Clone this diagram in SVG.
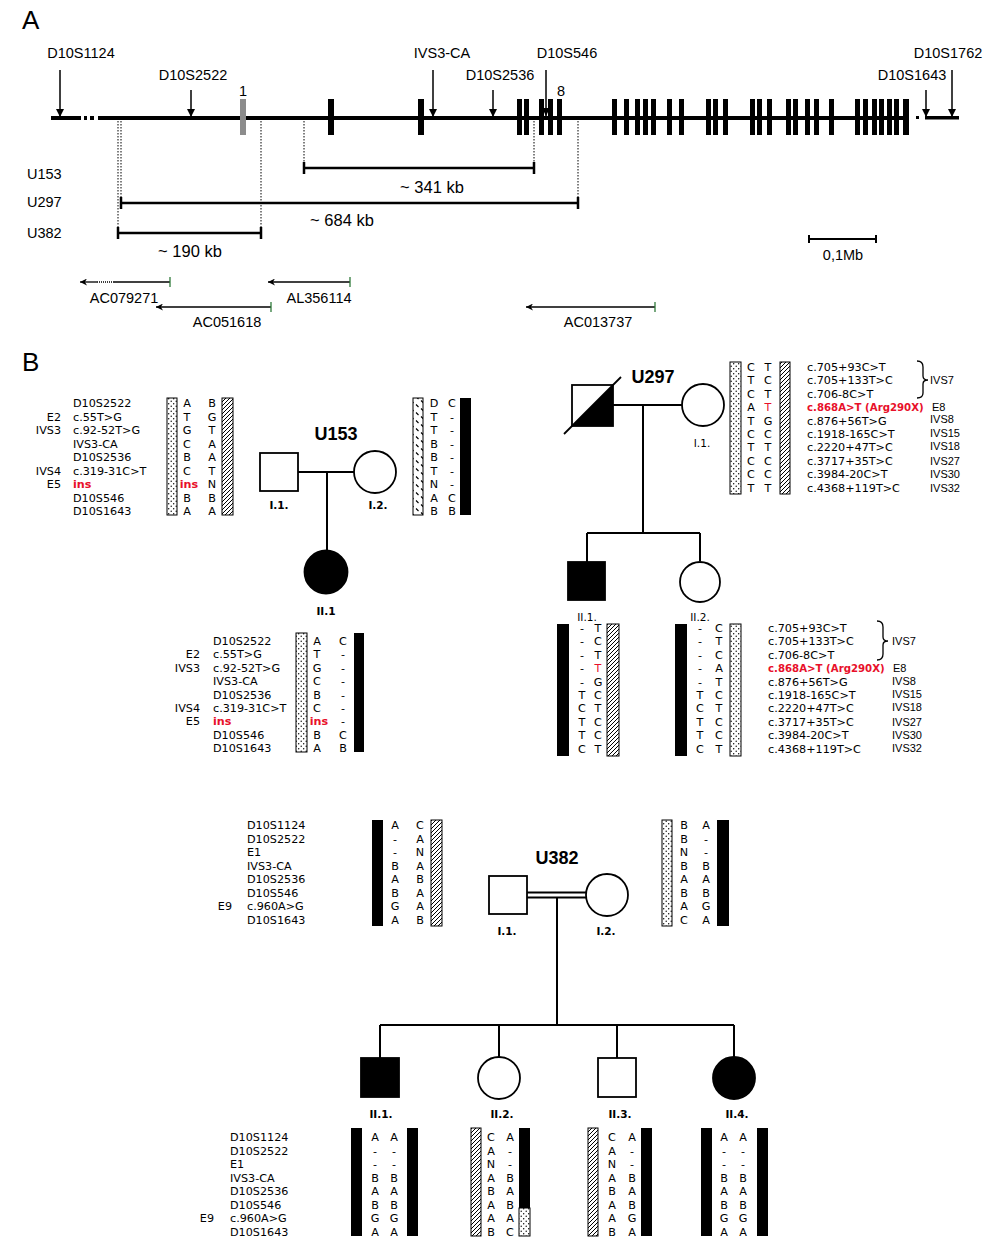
<svg xmlns="http://www.w3.org/2000/svg" width="1000" height="1246" viewBox="0 0 1000 1246">
<style>
.a{font-family:"Liberation Sans",Arial,sans-serif;font-size:14.5px;fill:#000}
.kb{font-size:16.5px}
.big{font-family:"Liberation Sans",Arial,sans-serif;font-size:26px;fill:#000}
.t{font-family:"Liberation Sans",Arial,sans-serif;font-weight:bold;font-size:18px;fill:#000}
.g{font-family:"DejaVu Sans",Verdana,sans-serif;font-size:11.2px;fill:#000}
.m{text-anchor:middle}
.e{text-anchor:end}
.iv{font-family:"Liberation Sans",Arial,sans-serif;font-size:11px;fill:#000}
.red{fill:#e8102a}
.rb{fill:#e8102a;font-weight:bold}
.lb{font-family:"DejaVu Sans",Verdana,sans-serif;font-size:10.5px;fill:#000;text-anchor:middle}
.lbb{font-family:"DejaVu Sans",Verdana,sans-serif;font-size:10.5px;font-weight:bold;fill:#000;text-anchor:middle}
.ex{fill:#000}
.ln{stroke:#000;stroke-width:2;fill:none}
.sym{stroke:#000;stroke-width:1.8;fill:#fff}
.fill{stroke:#000;stroke-width:1.8;fill:#000}
.dv{stroke:#000;stroke-width:1;stroke-dasharray:1.5 1.5;fill:none}
.dot{fill:url(#pd);stroke:#000;stroke-width:1}
.hat{fill:url(#ph);stroke:#000;stroke-width:1}
.sp{fill:url(#ps);stroke:#000;stroke-width:1}
.blk{fill:#000}
.arr{stroke:#000;stroke-width:1.5;fill:none;marker-end:url(#ah)}
.cl{stroke:#000;stroke-width:1.3;fill:none;marker-end:url(#ca)}
.tk{stroke:#2f7a3a;stroke-width:1.3}
.bar{stroke:#000;stroke-width:2.5;fill:none}
</style>
<defs>
<pattern id="pd" width="5" height="5" patternUnits="userSpaceOnUse">
<rect width="5" height="5" fill="#fff"/>
<circle cx="1.2" cy="1.2" r="0.7" fill="#000"/>
<circle cx="3.7" cy="3.7" r="0.7" fill="#000"/>
</pattern>
<pattern id="ph" width="4" height="4" patternUnits="userSpaceOnUse">
<rect width="4" height="4" fill="#fff"/>
<path d="M0,4 L4,0 M-1,1 L1,-1 M3,5 L5,3" stroke="#000" stroke-width="1"/>
</pattern>
<pattern id="ps" width="10" height="8" patternUnits="userSpaceOnUse">
<rect width="10" height="8" fill="#fff"/>
<path d="M1,0.5 L3.5,3 M6,4.5 L8.5,7" stroke="#000" stroke-width="1.1"/>
</pattern>
<marker id="ah" viewBox="0 0 10 10" refX="10" refY="5" markerWidth="8" markerHeight="8" markerUnits="userSpaceOnUse" orient="auto">
<path d="M0,0 L10,5 L0,10 z" fill="#000"/>
</marker>
<marker id="ca" viewBox="0 0 10 10" refX="10" refY="5" markerWidth="9" markerHeight="7" markerUnits="userSpaceOnUse" orient="auto">
<path d="M0,0 L10,5 L0,10 L3,5 z" fill="#000"/>
</marker>
</defs>
<rect width="1000" height="1246" fill="#fff"/>

<!-- PANEL A -->
<g id="panelA">
<text class="big" x="22" y="29">A</text>
<g id="backbone">
<rect x="51" y="116" width="30" height="4" class="ex"/>
<rect x="84" y="116" width="3" height="4" class="ex"/>
<rect x="90" y="116" width="4" height="4" class="ex"/>
<rect x="98" y="116" width="807" height="4" class="ex"/>
<rect x="916" y="116" width="3" height="3" class="ex"/>
<rect x="925" y="116" width="34" height="3.5" class="ex"/>
<rect x="240" y="99" width="6" height="36" fill="#8c8c8c"/>
<rect x="328" y="99" width="6" height="36" class="ex"/>
<rect x="418" y="99" width="6" height="36" class="ex"/>
<rect x="517" y="99" width="5" height="36" class="ex"/>
<rect x="524" y="99" width="5" height="36" class="ex"/>
<rect x="539" y="99" width="5" height="36" class="ex"/>
<rect x="548" y="99" width="5" height="36" class="ex"/>
<rect x="557" y="99" width="5" height="36" class="ex"/>
<rect x="612" y="99" width="5" height="36" class="ex"/>
<rect x="624" y="99" width="5" height="36" class="ex"/>
<rect x="635" y="99" width="5" height="36" class="ex"/>
<rect x="643" y="99" width="5" height="36" class="ex"/>
<rect x="651" y="99" width="5" height="36" class="ex"/>
<rect x="667" y="99" width="5" height="36" class="ex"/>
<rect x="679" y="99" width="5" height="36" class="ex"/>
<rect x="706" y="99" width="5" height="36" class="ex"/>
<rect x="713" y="99" width="5" height="36" class="ex"/>
<rect x="723" y="99" width="5" height="36" class="ex"/>
<rect x="750" y="99" width="5" height="36" class="ex"/>
<rect x="757" y="99" width="5" height="36" class="ex"/>
<rect x="767" y="99" width="5" height="36" class="ex"/>
<rect x="786" y="99" width="5" height="36" class="ex"/>
<rect x="793" y="99" width="5" height="36" class="ex"/>
<rect x="805" y="99" width="5" height="36" class="ex"/>
<rect x="814" y="99" width="5" height="36" class="ex"/>
<rect x="829" y="99" width="5" height="36" class="ex"/>
<rect x="855" y="99" width="5" height="36" class="ex"/>
<rect x="863" y="99" width="5" height="36" class="ex"/>
<rect x="872" y="99" width="5" height="36" class="ex"/>
<rect x="879" y="99" width="5" height="36" class="ex"/>
<rect x="887" y="99" width="5" height="36" class="ex"/>
<rect x="894" y="99" width="5" height="36" class="ex"/>
<rect x="903" y="99" width="6" height="36" class="ex"/>
<text class="a m" x="243" y="96">1</text>
<text class="a m" x="561" y="96">8</text>
</g>
<g id="markers">
<text class="a m" x="81" y="58">D10S1124</text>
<line class="arr" x1="60" y1="70" x2="60" y2="117"/>
<text class="a m" x="193" y="80">D10S2522</text>
<line class="arr" x1="191" y1="90" x2="191" y2="117"/>
<text class="a m" x="442" y="58">IVS3-CA</text>
<line class="arr" x1="433" y1="70" x2="433" y2="117"/>
<text class="a m" x="500" y="80">D10S2536</text>
<line class="arr" x1="493" y1="90" x2="493" y2="117"/>
<text class="a m" x="567" y="58">D10S546</text>
<line class="arr" x1="546" y1="70" x2="546" y2="116"/>
<text class="a m" x="912" y="80">D10S1643</text>
<line class="arr" x1="926" y1="90" x2="926" y2="117"/>
<text class="a m" x="948" y="58">D10S1762</text>
<line class="arr" x1="952" y1="70" x2="952" y2="117"/>
</g>
<g id="regions">
<line class="dv" x1="118" y1="121" x2="118" y2="233"/>
<line class="dv" x1="121" y1="121" x2="121" y2="203"/>
<line class="dv" x1="261" y1="121" x2="261" y2="233"/>
<line class="dv" x1="304" y1="121" x2="304" y2="168"/>
<line class="dv" x1="534" y1="121" x2="534" y2="168"/>
<line class="dv" x1="578" y1="121" x2="578" y2="203"/>
<text class="a" x="27" y="179">U153</text>
<text class="a" x="27" y="207">U297</text>
<text class="a" x="27" y="238">U382</text>
<path class="bar" d="M304,168 H534 M304,162 V174 M534,162 V174"/>
<path class="bar" d="M121,203 H578 M121,197 V209 M578,197 V209"/>
<path class="bar" d="M118,233 H261 M118,227 V239 M261,227 V239"/>
<text class="a kb m" x="432" y="193">~ 341 kb</text>
<text class="a kb m" x="342" y="226">~ 684 kb</text>
<text class="a kb m" x="190" y="257">~ 190 kb</text>
<path class="bar" d="M809,239 H876 M809,235 V243 M876,235 V243" style="stroke-width:2"/>
<text class="a m" x="843" y="260">0,1Mb</text>
</g>
<g id="clones">
<path d="M170,282 H114" stroke="#000" stroke-width="1.3"/>
<path d="M114,282 H96" stroke="#000" stroke-width="1.3" stroke-dasharray="1 1"/>
<line class="cl" x1="97" y1="282" x2="80" y2="282"/>
<line class="tk" x1="170" y1="277" x2="170" y2="287"/>
<text class="a m" x="124" y="303">AC079271</text>
<line class="cl" x1="350" y1="282" x2="268" y2="282"/>
<line class="tk" x1="350" y1="277" x2="350" y2="287"/>
<text class="a m" x="319" y="303">AL356114</text>
<line class="cl" x1="271" y1="307" x2="156" y2="307"/>
<line class="tk" x1="271" y1="302" x2="271" y2="312"/>
<text class="a m" x="227" y="327">AC051618</text>
<line class="cl" x1="655" y1="307" x2="526" y2="307"/>
<line class="tk" x1="655" y1="302" x2="655" y2="312"/>
<text class="a m" x="598" y="327">AC013737</text>
</g>
</g>

<!-- PANEL B -->
<text class="big" x="22" y="371">B</text>

<g id="connectors">
<line class="ln" x1="298" y1="472" x2="354" y2="472"/>
<line class="ln" x1="327" y1="472" x2="327" y2="551"/>
<line class="ln" x1="613" y1="405" x2="682" y2="405"/>
<line class="ln" x1="643" y1="405" x2="643" y2="533"/>
<line class="ln" x1="587" y1="533" x2="700" y2="533"/>
<line class="ln" x1="587" y1="533" x2="587" y2="562"/>
<line class="ln" x1="700" y1="533" x2="700" y2="561"/>
<line class="ln" x1="527" y1="892.5" x2="586" y2="892.5"/>
<line class="ln" x1="527" y1="897.5" x2="586" y2="897.5"/>
<line class="ln" x1="557" y1="897" x2="557" y2="1025"/>
<line class="ln" x1="380" y1="1025" x2="734" y2="1025"/>
<line class="ln" x1="380" y1="1025" x2="380" y2="1058"/>
<line class="ln" x1="499" y1="1025" x2="499" y2="1057"/>
<line class="ln" x1="617" y1="1025" x2="617" y2="1058"/>
<line class="ln" x1="734" y1="1025" x2="734" y2="1057"/>
</g>

<g id="U153">
<text class="t m" x="336" y="440">U153</text>
<g id="U153-I1">
<rect class="sym" x="260" y="453" width="38" height="38"/>
<text class="lbb" x="279" y="509">I.1.</text>
<rect class="dot" x="167" y="398" width="10" height="117"/>
<rect class="hat" x="222" y="398" width="11" height="117"/>
<g class="g">
<text x="73" y="407">D10S2522</text>
<text x="73" y="420.5">c.55T&gt;G</text>
<text x="73" y="434">c.92-52T&gt;G</text>
<text x="73" y="447.5">IVS3-CA</text>
<text x="73" y="461">D10S2536</text>
<text x="73" y="474.5">c.319-31C&gt;T</text>
<text x="73" y="488" class="rb">ins</text>
<text x="73" y="501.5">D10S546</text>
<text x="73" y="515">D10S1643</text>
<text class="e" x="61" y="420.5">E2</text>
<text class="e" x="61" y="434">IVS3</text>
<text class="e" x="61" y="474.5">IVS4</text>
<text class="e" x="61" y="488">E5</text>
</g>
<g class="g m">
<text x="187" y="407">A</text><text x="187" y="420.5">T</text><text x="187" y="434">G</text><text x="187" y="447.5">C</text><text x="187" y="461">B</text><text x="187" y="474.5">C</text><text x="189" y="488" class="rb">ins</text><text x="187" y="501.5">B</text><text x="187" y="515">A</text>
<text x="212" y="407">B</text><text x="212" y="420.5">G</text><text x="212" y="434">T</text><text x="212" y="447.5">A</text><text x="212" y="461">A</text><text x="212" y="474.5">T</text><text x="212" y="488">N</text><text x="212" y="501.5">B</text><text x="212" y="515">A</text>
</g>
</g>
<g id="U153-I2">
<circle class="sym" cx="375" cy="472" r="21"/>
<text class="lbb" x="378" y="509">I.2.</text>
<rect class="sp" x="413" y="398" width="10" height="117"/>
<rect class="blk" x="460" y="398" width="11" height="117"/>
<g class="g m">
<text x="434" y="407">D</text><text x="434" y="420.5">T</text><text x="434" y="434">T</text><text x="434" y="447.5">B</text><text x="434" y="461">B</text><text x="434" y="474.5">T</text><text x="434" y="488">N</text><text x="434" y="501.5">A</text><text x="434" y="515">B</text>
<text x="452" y="407">C</text><text x="452" y="420.5">-</text><text x="452" y="434">-</text><text x="452" y="447.5">-</text><text x="452" y="461">-</text><text x="452" y="474.5">-</text><text x="452" y="488">-</text><text x="452" y="501.5">C</text><text x="452" y="515">B</text>
</g>
</g>
<g id="U153-II1">
<circle class="fill" cx="326" cy="572" r="21.5"/>
<text class="lbb" x="326" y="615">II.1</text>
<rect class="dot" x="296" y="633" width="11" height="119"/>
<rect class="blk" x="354" y="633" width="10" height="119"/>
<g class="g">
<text x="213" y="645">D10S2522</text>
<text x="213" y="658.4">c.55T&gt;G</text>
<text x="213" y="671.8">c.92-52T&gt;G</text>
<text x="213" y="685.2">IVS3-CA</text>
<text x="213" y="698.6">D10S2536</text>
<text x="213" y="712">c.319-31C&gt;T</text>
<text x="213" y="725.4" class="rb">ins</text>
<text x="213" y="738.8">D10S546</text>
<text x="213" y="752.2">D10S1643</text>
<text class="e" x="200" y="658.4">E2</text>
<text class="e" x="200" y="671.8">IVS3</text>
<text class="e" x="200" y="712">IVS4</text>
<text class="e" x="200" y="725.4">E5</text>
</g>
<g class="g m">
<text x="317" y="645">A</text><text x="317" y="658.4">T</text><text x="317" y="671.8">G</text><text x="317" y="685.2">C</text><text x="317" y="698.6">B</text><text x="317" y="712">C</text><text x="319" y="725.4" class="rb">ins</text><text x="317" y="738.8">B</text><text x="317" y="752.2">A</text>
<text x="343" y="645">C</text><text x="343" y="658.4">-</text><text x="343" y="671.8">-</text><text x="343" y="685.2">-</text><text x="343" y="698.6">-</text><text x="343" y="712">-</text><text x="343" y="725.4">-</text><text x="343" y="738.8">C</text><text x="343" y="752.2">B</text>
</g>
</g>
</g>

<g id="U297">
<text class="t m" x="653" y="383">U297</text>
<g id="U297-I1m">
<rect class="sym" x="572" y="385" width="41" height="41"/>
<path d="M572,426 L613,385 L613,426 z" fill="#000"/>
<line x1="564" y1="434" x2="621" y2="377" stroke="#000" stroke-width="1.8"/>
</g>
<g id="U297-I1f">
<circle class="sym" cx="703" cy="405" r="21"/>
<text class="lb" x="702" y="447">I.1.</text>
<rect class="dot" x="730" y="362" width="11" height="132"/>
<rect class="hat" x="780" y="362" width="10" height="132"/>
<g class="g m">
<text x="751" y="371">C</text><text x="751" y="384.4">T</text><text x="751" y="397.8">C</text><text x="751" y="411.2">A</text><text x="751" y="424.6">T</text><text x="751" y="438">C</text><text x="751" y="451.4">T</text><text x="751" y="464.8">C</text><text x="751" y="478.2">C</text><text x="751" y="491.6">T</text>
<text x="768" y="371">T</text><text x="768" y="384.4">C</text><text x="768" y="397.8">T</text><text x="768" y="411.2" class="red">T</text><text x="768" y="424.6">G</text><text x="768" y="438">C</text><text x="768" y="451.4">T</text><text x="768" y="464.8">C</text><text x="768" y="478.2">C</text><text x="768" y="491.6">T</text>
</g>
<g class="g">
<text x="807" y="371">c.705+93C&gt;T</text>
<text x="807" y="384.4">c.705+133T&gt;C</text>
<text x="807" y="397.8">c.706-8C&gt;T</text>
<text x="807" y="411.2" class="rb" style="font-size:10.2px">c.868A&gt;T (Arg290X)</text>
<text x="807" y="424.6">c.876+56T&gt;G</text>
<text x="807" y="438">c.1918-165C&gt;T</text>
<text x="807" y="451.4">c.2220+47T&gt;C</text>
<text x="807" y="464.8">c.3717+35T&gt;C</text>
<text x="807" y="478.2">c.3984-20C&gt;T</text>
<text x="807" y="491.6">c.4368+119T&gt;C</text>
</g>
<path d="M917,361 Q923,361 923,367 L923,376 Q923,380 928,380 Q923,380 923,384 L923,393 Q923,398 917,398" stroke="#000" stroke-width="1.3" fill="none"/>
<g class="iv">
<text x="930" y="384">IVS7</text>
<text x="932" y="411">E8</text>
<text x="930" y="423">IVS8</text>
<text x="930" y="437">IVS15</text>
<text x="930" y="450">IVS18</text>
<text x="930" y="465">IVS27</text>
<text x="930" y="478">IVS30</text>
<text x="930" y="492">IVS32</text>
</g>
</g>
<g id="U297-II1">
<rect class="fill" x="568" y="562" width="37" height="38"/>
<text class="lb" x="587" y="621">II.1.</text>
<rect class="blk" x="557" y="624" width="12" height="132"/>
<rect class="hat" x="607" y="624" width="12" height="132"/>
<g class="g m">
<text x="582" y="632">-</text><text x="582" y="645.4">-</text><text x="582" y="658.8">-</text><text x="582" y="672.2">-</text><text x="582" y="685.6">-</text><text x="582" y="699">T</text><text x="582" y="712.4">C</text><text x="582" y="725.8">T</text><text x="582" y="739.2">T</text><text x="582" y="752.6">C</text>
<text x="598" y="632">T</text><text x="598" y="645.4">C</text><text x="598" y="658.8">T</text><text x="598" y="672.2" class="red">T</text><text x="598" y="685.6">G</text><text x="598" y="699">C</text><text x="598" y="712.4">T</text><text x="598" y="725.8">C</text><text x="598" y="739.2">C</text><text x="598" y="752.6">T</text>
</g>
</g>
<g id="U297-II2">
<circle class="sym" cx="700" cy="582" r="20"/>
<text class="lb" x="700" y="621">II.2.</text>
<rect class="blk" x="675" y="624" width="12" height="132"/>
<rect class="dot" x="730" y="624" width="11" height="132"/>
<g class="g m">
<text x="700" y="632">-</text><text x="700" y="645.4">-</text><text x="700" y="658.8">-</text><text x="700" y="672.2">-</text><text x="700" y="685.6">-</text><text x="700" y="699">T</text><text x="700" y="712.4">C</text><text x="700" y="725.8">T</text><text x="700" y="739.2">T</text><text x="700" y="752.6">C</text>
<text x="719" y="632">C</text><text x="719" y="645.4">T</text><text x="719" y="658.8">C</text><text x="719" y="672.2">A</text><text x="719" y="685.6">T</text><text x="719" y="699">C</text><text x="719" y="712.4">T</text><text x="719" y="725.8">C</text><text x="719" y="739.2">C</text><text x="719" y="752.6">T</text>
</g>
<g class="g">
<text x="768" y="632">c.705+93C&gt;T</text>
<text x="768" y="645.4">c.705+133T&gt;C</text>
<text x="768" y="658.8">c.706-8C&gt;T</text>
<text x="768" y="672.2" class="rb" style="font-size:10.2px">c.868A&gt;T (Arg290X)</text>
<text x="768" y="685.6">c.876+56T&gt;G</text>
<text x="768" y="699">c.1918-165C&gt;T</text>
<text x="768" y="712.4">c.2220+47T&gt;C</text>
<text x="768" y="725.8">c.3717+35T&gt;C</text>
<text x="768" y="739.2">c.3984-20C&gt;T</text>
<text x="768" y="752.6">c.4368+119T&gt;C</text>
</g>
<path d="M877,621 Q883,621 883,627 L883,637 Q883,641 888,641 Q883,641 883,645 L883,654 Q883,660 877,660" stroke="#000" stroke-width="1.3" fill="none"/>
<g class="iv">
<text x="892" y="645">IVS7</text>
<text x="893" y="672">E8</text>
<text x="892" y="685">IVS8</text>
<text x="892" y="698">IVS15</text>
<text x="892" y="711">IVS18</text>
<text x="892" y="726">IVS27</text>
<text x="892" y="739">IVS30</text>
<text x="892" y="752">IVS32</text>
</g>
</g>
</g>

<g id="U382">
<text class="t m" x="557" y="864">U382</text>
<g id="U382-I1">
<rect class="sym" x="489" y="876" width="38" height="38"/>
<text class="lbb" x="507" y="935">I.1.</text>
<rect class="blk" x="372" y="820" width="11" height="106"/>
<rect class="hat" x="431" y="820" width="11" height="106"/>
<g class="g">
<text x="247" y="829">D10S1124</text>
<text x="247" y="842.6">D10S2522</text>
<text x="247" y="856.1">E1</text>
<text x="247" y="869.7">IVS3-CA</text>
<text x="247" y="883.3">D10S2536</text>
<text x="247" y="896.9">D10S546</text>
<text x="247" y="910.4">c.960A&gt;G</text>
<text x="247" y="924">D10S1643</text>
<text class="e" x="232" y="910.4">E9</text>
</g>
<g class="g m">
<text x="395" y="829">A</text><text x="395" y="842.6">-</text><text x="395" y="856.1">-</text><text x="395" y="869.7">B</text><text x="395" y="883.3">A</text><text x="395" y="896.9">B</text><text x="395" y="910.4">G</text><text x="395" y="924">A</text>
<text x="420" y="829">C</text><text x="420" y="842.6">A</text><text x="420" y="856.1">N</text><text x="420" y="869.7">A</text><text x="420" y="883.3">B</text><text x="420" y="896.9">A</text><text x="420" y="910.4">A</text><text x="420" y="924">B</text>
</g>
</g>
<g id="U382-I2">
<circle class="sym" cx="607" cy="895" r="21"/>
<text class="lbb" x="606" y="935">I.2.</text>
<rect class="dot" x="662" y="820" width="10" height="106"/>
<rect class="blk" x="717" y="820" width="12" height="106"/>
<g class="g m">
<text x="684" y="829">B</text><text x="684" y="842.6">B</text><text x="684" y="856.1">N</text><text x="684" y="869.7">B</text><text x="684" y="883.3">A</text><text x="684" y="896.9">B</text><text x="684" y="910.4">A</text><text x="684" y="924">C</text>
<text x="706" y="829">A</text><text x="706" y="842.6">-</text><text x="706" y="856.1">-</text><text x="706" y="869.7">B</text><text x="706" y="883.3">A</text><text x="706" y="896.9">B</text><text x="706" y="910.4">G</text><text x="706" y="924">A</text>
</g>
</g>
<g class="g" id="U382-rowlabels">
<text x="230" y="1141">D10S1124</text>
<text x="230" y="1154.6">D10S2522</text>
<text x="230" y="1168.1">E1</text>
<text x="230" y="1181.7">IVS3-CA</text>
<text x="230" y="1195.3">D10S2536</text>
<text x="230" y="1208.9">D10S546</text>
<text x="230" y="1222.4">c.960A&gt;G</text>
<text x="230" y="1236">D10S1643</text>
<text class="e" x="214" y="1222.4">E9</text>
</g>
<g id="U382-II1">
<rect class="fill" x="361" y="1058" width="38" height="39"/>
<text class="lbb" x="381" y="1118">II.1.</text>
<rect class="blk" x="351" y="1128" width="11" height="108"/>
<rect class="blk" x="407" y="1128" width="11" height="108"/>
<g class="g m">
<text x="375" y="1141">A</text><text x="375" y="1154.6">-</text><text x="375" y="1168.1">-</text><text x="375" y="1181.7">B</text><text x="375" y="1195.3">A</text><text x="375" y="1208.9">B</text><text x="375" y="1222.4">G</text><text x="375" y="1236">A</text>
<text x="394" y="1141">A</text><text x="394" y="1154.6">-</text><text x="394" y="1168.1">-</text><text x="394" y="1181.7">B</text><text x="394" y="1195.3">A</text><text x="394" y="1208.9">B</text><text x="394" y="1222.4">G</text><text x="394" y="1236">A</text>
</g>
</g>
<g id="U382-II2">
<circle class="sym" cx="499" cy="1078" r="21"/>
<text class="lbb" x="502" y="1118">II.2.</text>
<rect class="hat" x="471" y="1128" width="10" height="108"/>
<rect class="blk" x="519" y="1128" width="11" height="80"/>
<rect class="dot" x="519" y="1208" width="11" height="28"/>
<g class="g m">
<text x="491" y="1141">C</text><text x="491" y="1154.6">A</text><text x="491" y="1168.1">N</text><text x="491" y="1181.7">A</text><text x="491" y="1195.3">B</text><text x="491" y="1208.9">A</text><text x="491" y="1222.4">A</text><text x="491" y="1236">B</text>
<text x="510" y="1141">A</text><text x="510" y="1154.6">-</text><text x="510" y="1168.1">-</text><text x="510" y="1181.7">B</text><text x="510" y="1195.3">A</text><text x="510" y="1208.9">B</text><text x="510" y="1222.4">A</text><text x="510" y="1236">C</text>
</g>
</g>
<g id="U382-II3">
<rect class="sym" x="598" y="1058" width="38" height="39"/>
<text class="lbb" x="620" y="1118">II.3.</text>
<rect class="hat" x="588" y="1128" width="10" height="108"/>
<rect class="blk" x="641" y="1128" width="11" height="108"/>
<g class="g m">
<text x="612" y="1141">C</text><text x="612" y="1154.6">A</text><text x="612" y="1168.1">N</text><text x="612" y="1181.7">A</text><text x="612" y="1195.3">B</text><text x="612" y="1208.9">A</text><text x="612" y="1222.4">A</text><text x="612" y="1236">B</text>
<text x="632" y="1141">A</text><text x="632" y="1154.6">-</text><text x="632" y="1168.1">-</text><text x="632" y="1181.7">B</text><text x="632" y="1195.3">A</text><text x="632" y="1208.9">B</text><text x="632" y="1222.4">G</text><text x="632" y="1236">A</text>
</g>
</g>
<g id="U382-II4">
<circle class="fill" cx="734" cy="1078" r="21"/>
<text class="lbb" x="737" y="1118">II.4.</text>
<rect class="blk" x="701" y="1128" width="11" height="108"/>
<rect class="blk" x="757" y="1128" width="11" height="108"/>
<g class="g m">
<text x="724" y="1141">A</text><text x="724" y="1154.6">-</text><text x="724" y="1168.1">-</text><text x="724" y="1181.7">B</text><text x="724" y="1195.3">A</text><text x="724" y="1208.9">B</text><text x="724" y="1222.4">G</text><text x="724" y="1236">A</text>
<text x="743" y="1141">A</text><text x="743" y="1154.6">-</text><text x="743" y="1168.1">-</text><text x="743" y="1181.7">B</text><text x="743" y="1195.3">A</text><text x="743" y="1208.9">B</text><text x="743" y="1222.4">G</text><text x="743" y="1236">A</text>
</g>
</g>
</g>
</svg>
